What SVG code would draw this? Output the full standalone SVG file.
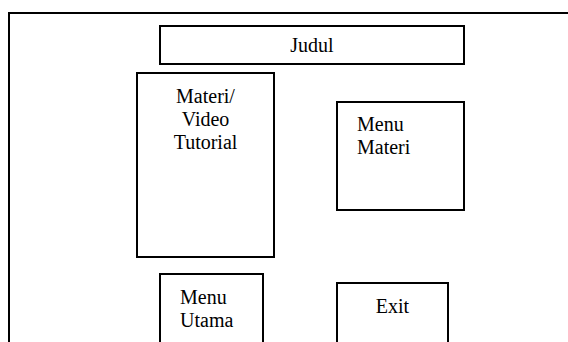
<svg xmlns="http://www.w3.org/2000/svg" width="568" height="342" viewBox="0 0 568 342">
<style>
.box{fill:#fff;stroke:#000;stroke-width:2}
.t{font-family:"Liberation Serif","Times New Roman",serif;font-size:20px;fill:#000}
.c{text-anchor:middle}
</style>
<rect width="568" height="342" fill="#fff"/>
<g id="frame"><path d="M9,343 V13 H569" fill="none" stroke="#000" stroke-width="2"/></g>
<g id="judul"><rect class="box" x="160" y="26" width="304" height="38"/><text class="t c" x="312" y="52">Judul</text></g>
<g id="materi"><rect class="box" x="137" y="73" width="137" height="184"/>
<text class="t c" x="205.5" y="103">Materi/</text>
<text class="t c" x="205.5" y="126">Video</text>
<text class="t c" x="205.5" y="149">Tutorial</text></g>
<g id="menu-materi"><rect class="box" x="337" y="102" width="127" height="108"/>
<text class="t" x="357" y="131">Menu</text>
<text class="t" x="357" y="154">Materi</text></g>
<g id="menu-utama"><rect class="box" x="160" y="274" width="103" height="80"/>
<text class="t" x="180" y="304">Menu</text>
<text class="t" x="180" y="327">Utama</text></g>
<g id="exit"><rect class="box" x="337" y="283" width="111" height="80"/>
<text class="t c" x="392.5" y="313">Exit</text></g>
<g id="connectors"></g>
</svg>
